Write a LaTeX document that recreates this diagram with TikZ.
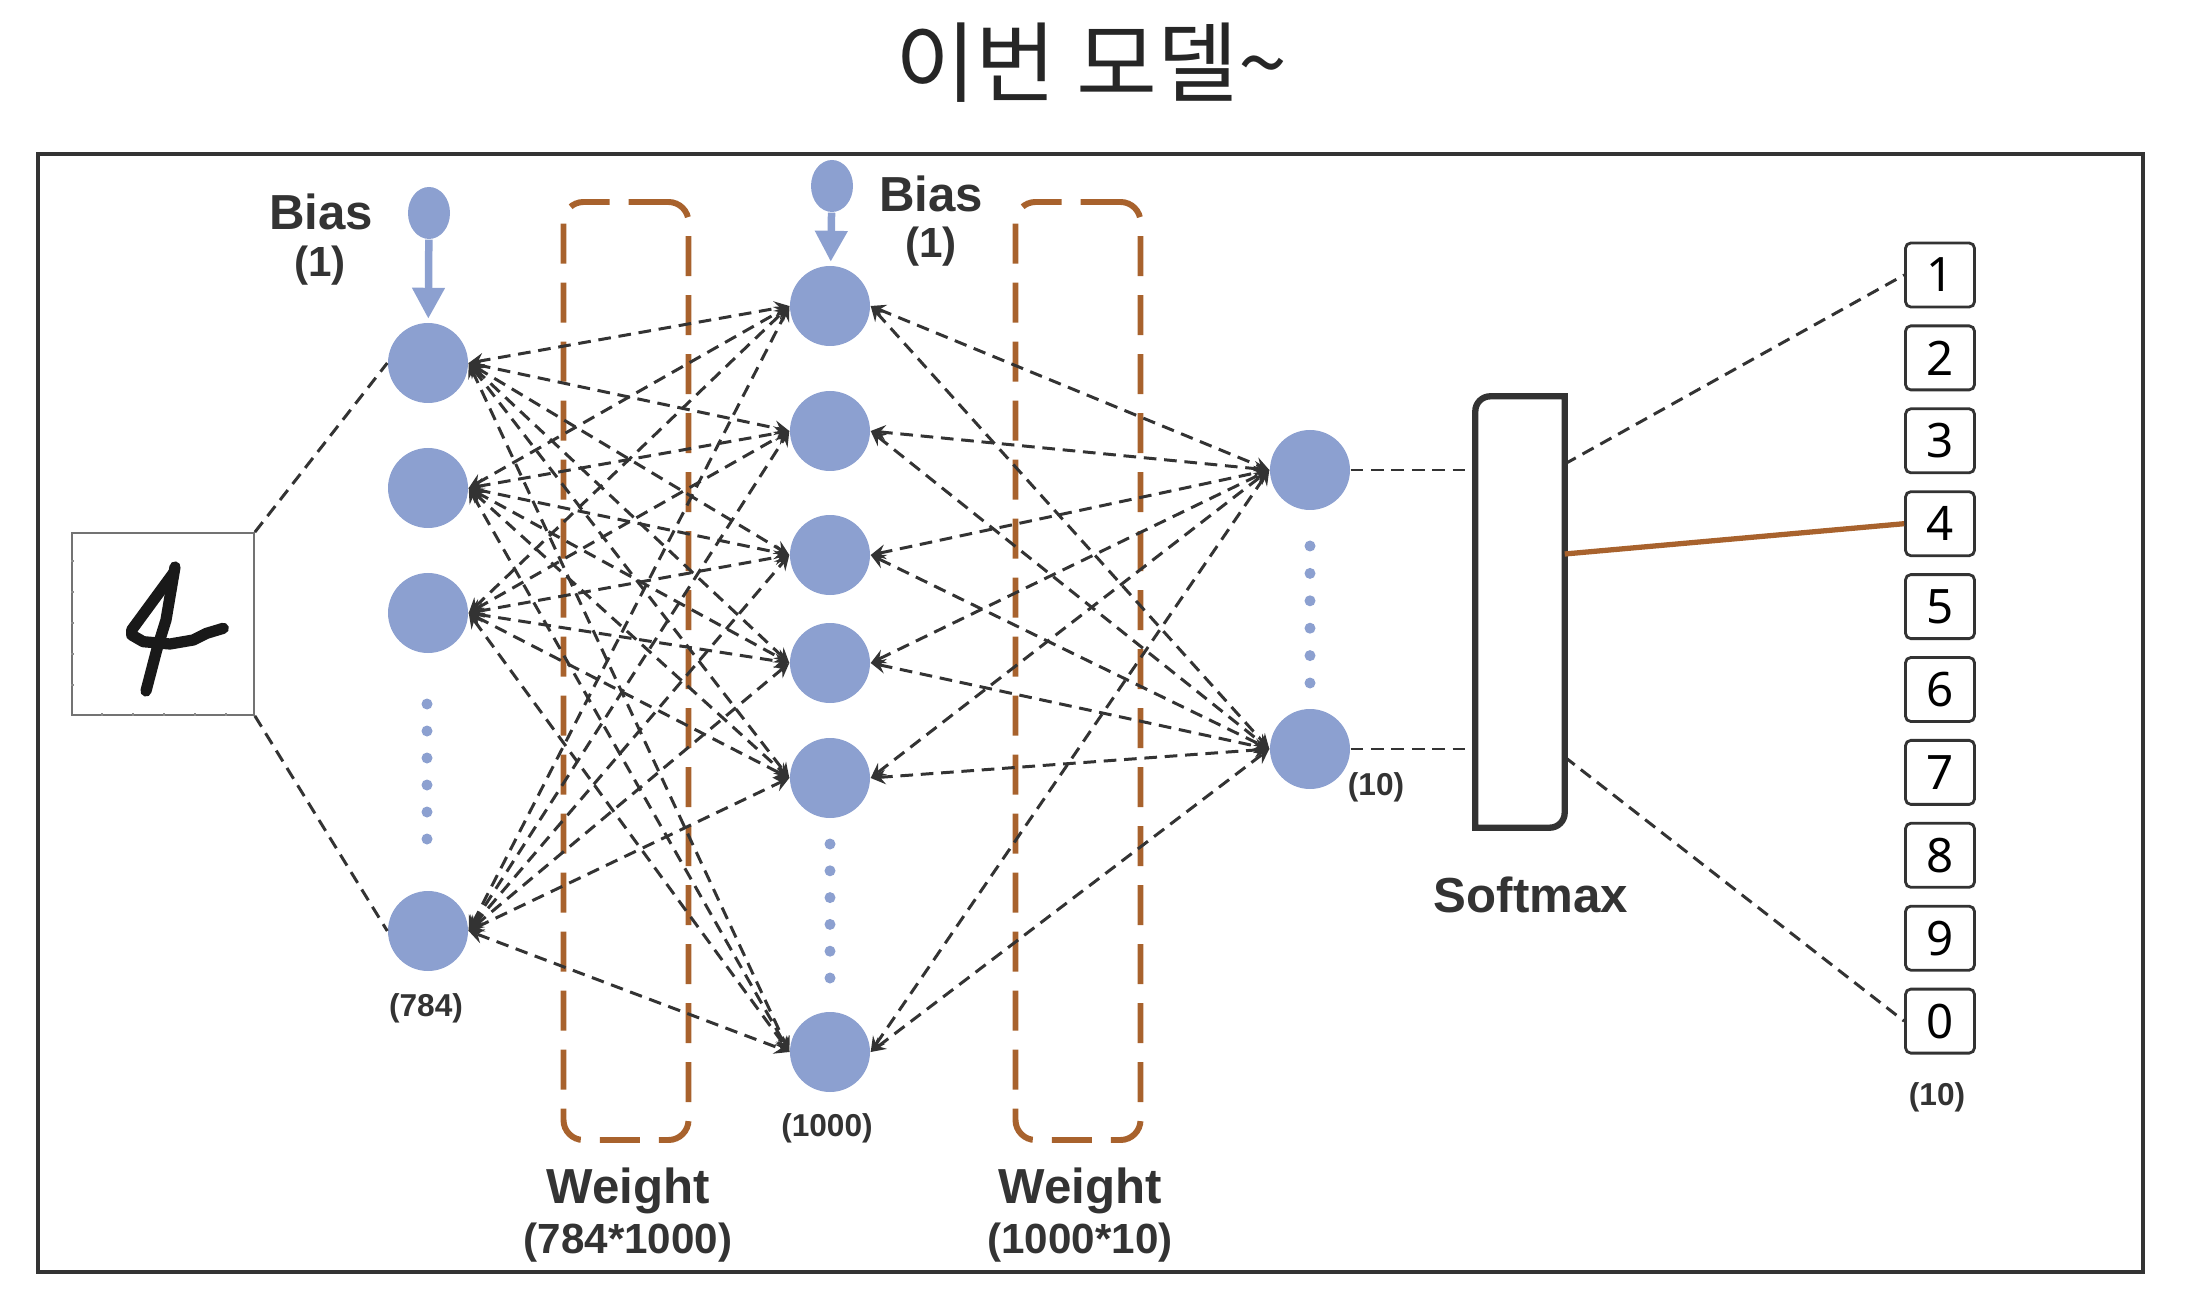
\documentclass[tikz,border=0pt]{standalone}
\usepackage{fontspec}
\setmainfont{Liberation Sans}
\newfontfamily\krfont{Noto Sans CJK KR}
\newfontfamily\digitfont{Noto Sans}
\usetikzlibrary{shapes.geometric,arrows.meta}
\definecolor{nodeblue}{RGB}{140,160,208}
\definecolor{wbrown}{RGB}{168,98,45}
\definecolor{ink}{RGB}{51,51,51}

\begin{document}
\begin{tikzpicture}[
        >=stealth,
        neuron/.style={
          circle,
          fill=nodeblue,
          minimum size=0.8cm,
          inner sep=0pt
        },
        biasnode/.style={
          ellipse,
          fill=nodeblue,
          minimum width=0.42cm,
          minimum height=0.52cm,
          inner sep=0pt
        },
        gapdot/.style={
          circle,
          fill=nodeblue,
          minimum size=0.11cm,
          inner sep=0pt
        },
        conn/.style={
          draw=ink,
          line width=0.85pt,
          dash pattern=on 3.6pt off 2.2pt
        },
        link/.style={
          conn,
          <->
        },
        biasarrow/.style={
          -{Triangle[length=0.31cm,width=0.31cm]},
          draw=nodeblue,
          line width=0.075cm,
          shorten >=1pt
        },
        weightbox/.style={
          draw=wbrown,
          line width=1.7pt,
          dash pattern=on 0.4cm off 0.19cm,
          rounded corners=0.2cm,
          minimum width=1.25cm,
          minimum height=9.38cm
        },
        digitbox/.style={
          draw=ink,
          line width=0.8pt,
          rounded corners=1.5pt,
          minimum width=0.69cm,
          minimum height=0.64cm,
          inner sep=0pt,
          font=\digitfont\fontsize{13.5}{13.5}\selectfont
        },
        lbl/.style={
          text=ink,
          font=\bfseries\fontsize{14}{14}\selectfont
        },
        sublbl/.style={
          text=ink,
          font=\bfseries\fontsize{12}{12}\selectfont
        },
        countlbl/.style={
          text=ink,
          font=\bfseries\fontsize{9}{9}\selectfont
        }
      ]
        \useasboundingbox (0,0) rectangle (21.99,12.98);
        \draw[ink, line width=1pt] (0.38,0.26) rectangle (21.43,11.44);
        \node[text=black!85, font=\krfont\fontsize{25}{25}\selectfont] (title) at (10.91,12.35) {이번 모델\textasciitilde};

        % input image
        \node[draw=black!55, line width=0.5pt, minimum size=1.82cm, inner sep=0pt] (img) at (1.63,6.74) {};
        \foreach \t in {1,...,5} {
          \draw[black!45, line width=0.4pt] (img.south west) ++(\t*0.31,0) -- ++(0,0.03);
          \draw[black!45, line width=0.4pt] (img.south west) ++(0,\t*0.31) -- ++(0.03,0);
        }
        \draw[black!90, line width=3.2pt, line cap=round, line join=round]
          (1.75,7.31) -- (1.66,6.78) -- (1.567,6.48) -- (1.46,6.07);
        \draw[black!90, line width=3.2pt, line cap=round, line join=round]
          (1.733,7.247) -- (1.317,6.68) -- (1.317,6.63) -- (1.433,6.563) -- (1.70,6.54)
          -- (1.933,6.58) -- (2.067,6.647) -- (2.233,6.697);

        % layers
        \foreach \y/\n in {9.35/1,8.10/2,6.85/3,3.67/4}
          \node[neuron] (a\n) at (4.28,\y) {};
        \foreach \y/\n in {9.92/1,8.67/2,7.43/3,6.35/4,5.20/5,2.46/6}
          \node[neuron] (b\n) at (8.30,\y) {};
        \foreach \y/\n in {8.28/1,5.49/2}
          \node[neuron] (c\n) at (13.10,\y) {};

        \foreach \k in {0,...,5} {
          \node[gapdot] (adot\k) at (4.27,5.94-0.27*\k) {};
          \node[gapdot] (bdot\k) at (8.30,4.54-0.268*\k) {};
          \node[gapdot] (cdot\k) at (13.10,7.52-0.274*\k) {};
        }

        \node[countlbl] (n784) at (4.26,2.90) {(784)};
        \node[countlbl] (n1000) at (8.27,1.70) {(1000)};
        \node[countlbl] (n10) at (13.76,5.11) {(10)};

        % bias
        \node[biasnode] (bias1) at (4.29,10.85) {};
        \node[biasnode] (bias2) at (8.32,11.12) {};
        \draw[biasarrow] (bias1) -- (a1);
        \draw[biasarrow] (bias2) -- (b1);
        \node[lbl] (biaslbl1) at (3.21,10.86) {Bias};
        \node[sublbl] (biasn1) at (3.20,10.32) {(1)};
        \node[lbl] (biaslbl2) at (9.31,11.04) {Bias};
        \node[sublbl] (biasn2) at (9.31,10.51) {(1)};

        % weights
        \node[weightbox] (w1) at (6.26,6.27) {};
        \node[weightbox] (w2) at (10.78,6.27) {};
        \node[lbl] (wlbl1) at (6.28,1.07) {Weight};
        \node[sublbl] (wsize1) at (6.28,0.55) {(784*1000)};
        \node[lbl] (wlbl2) at (10.80,1.07) {Weight};
        \node[sublbl] (wsize2) at (10.80,0.55) {(1000*10)};

        \draw[conn] (img.north east) -- (a1.west);
        \draw[conn] (img.south east) -- (a4.west);
        \foreach \i in {1,...,4}
          \foreach \j in {1,...,6}
            \draw[link] (a\i.east) -- (b\j.west);
        \foreach \i in {1,...,6}
          \foreach \j in {1,2}
            \draw[link] (b\i.east) -- (c\j.west);

        % softmax
        \node[minimum width=0.88cm, minimum height=4.30cm] (soft) at (15.20,6.86) {};
        \draw[ink, line width=1.8pt] (soft.south west) [rounded corners=0.15cm] -- (soft.north west)
          [sharp corners] -- (soft.north east) [rounded corners=0.15cm] -- (soft.south east)
          [sharp corners] -- cycle;
        \node[lbl] (softlbl) at (15.31,4.03) {Softmax};
        \draw[conn] (c1.east) -- (c1.east -| soft.west);
        \draw[conn] (c2.east) -- (c2.east -| soft.west);

        % outputs
        \foreach \l [count=\i from 0] in {1,2,3,4,5,6,7,8,9,0}
          \node[digitbox] (d\l) at (19.40,10.23-0.829*\i) {\l};
        \node[countlbl] (nout) at (19.37,2.01) {(10)};

        \coordinate (s1) at ([yshift=1.48cm]soft.east);
        \coordinate (s4) at ([yshift=0.58cm]soft.east);
        \coordinate (s0) at ([yshift=-1.45cm]soft.east);
        \draw[conn] (s1) -- (d1.west);
        \draw[draw=wbrown, line width=1.5pt] (s4) -- (d4.west);
        \draw[conn] (s0) -- (d0.west);
      \end{tikzpicture}
\end{document}
